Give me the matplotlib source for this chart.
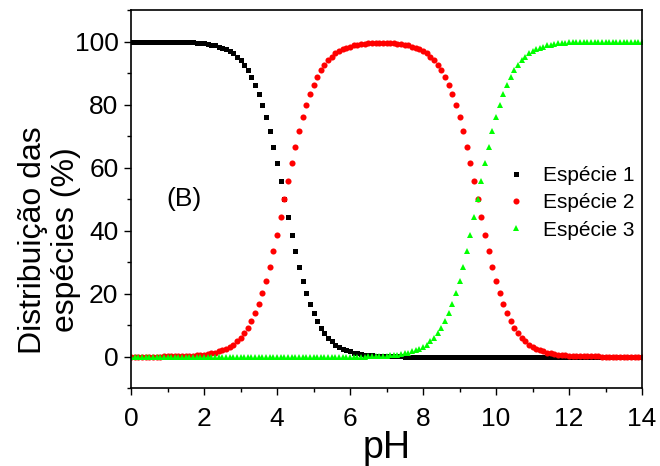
import matplotlib
matplotlib.use('Agg')
import matplotlib.pyplot as plt
import numpy as np
from matplotlib.ticker import MultipleLocator

plt.rcParams['font.family'] = ['Liberation Sans', 'DejaVu Sans']

# pH from 0 to 14 in steps of 0.1 (141 points)
ph = np.linspace(0, 14, 141)

especie1 = [
    100.0, 100.0, 100.0, 100.0, 100.0, 100.0, 100.0, 100.0, 100.0, 99.9,
    99.9, 99.9, 99.9, 99.9, 99.8, 99.8, 99.7, 99.7, 99.6, 99.5,
    99.4, 99.2, 99.0, 98.8, 98.4, 98.0, 97.5, 96.9, 96.2, 95.2,
    94.1, 92.6, 90.9, 88.8, 86.3, 83.4, 79.9, 76.0, 71.5, 66.6,
    61.3, 55.7, 50.0, 44.3, 38.7, 33.4, 28.5, 24.0, 20.1, 16.6,
    13.7, 11.2, 9.1, 7.4, 5.9, 4.8, 3.8, 3.1, 2.5, 2.0,
    1.6, 1.2, 1.0, 0.8, 0.6, 0.5, 0.4, 0.3, 0.3, 0.2,
    0.2, 0.1, 0.1, 0.1, 0.1, 0.0, 0.0, 0.0, 0.0, 0.0,
    0.0, 0.0, 0.0, 0.0, 0.0, 0.0, 0.0, 0.0, 0.0, 0.0,
    0.0, 0.0, 0.0, 0.0, 0.0, 0.0, 0.0, 0.0, 0.0, 0.0,
    0.0, 0.0, 0.0, 0.0, 0.0, 0.0, 0.0, 0.0, 0.0, 0.0,
    0.0, 0.0, 0.0, 0.0, 0.0, 0.0, 0.0, 0.0, 0.0, 0.0,
    0.0, 0.0, 0.0, 0.0, 0.0, 0.0, 0.0, 0.0, 0.0, 0.0,
    0.0, 0.0, 0.0, 0.0, 0.0, 0.0, 0.0, 0.0, 0.0, 0.0,
    0.0,
]

especie2 = [
    0.0, 0.0, 0.0, 0.0, 0.0, 0.0, 0.0, 0.0, 0.0, 0.1,
    0.1, 0.1, 0.1, 0.1, 0.2, 0.2, 0.3, 0.3, 0.4, 0.5,
    0.6, 0.8, 1.0, 1.2, 1.6, 2.0, 2.5, 3.1, 3.8, 4.8,
    5.9, 7.4, 9.1, 11.2, 13.7, 16.6, 20.1, 24.0, 28.5, 33.4,
    38.7, 44.3, 50.0, 55.7, 61.3, 66.6, 71.5, 76.0, 79.9, 83.4,
    86.3, 88.8, 90.9, 92.6, 94.1, 95.2, 96.2, 96.9, 97.5, 98.0,
    98.4, 98.8, 99.0, 99.2, 99.3, 99.4, 99.5, 99.5, 99.5, 99.5,
    99.5, 99.5, 99.4, 99.3, 99.1, 98.9, 98.8, 98.4, 98.0, 97.5,
    96.9, 96.2, 95.2, 94.1, 92.6, 90.9, 88.8, 86.3, 83.4, 79.9,
    76.0, 71.5, 66.6, 61.3, 55.7, 50.0, 44.3, 38.7, 33.4, 28.5,
    24.0, 20.1, 16.6, 13.7, 11.2, 9.1, 7.4, 5.9, 4.8, 3.8,
    3.1, 2.5, 2.0, 1.6, 1.2, 1.0, 0.8, 0.6, 0.5, 0.4,
    0.3, 0.3, 0.2, 0.2, 0.1, 0.1, 0.1, 0.1, 0.1, 0.0,
    0.0, 0.0, 0.0, 0.0, 0.0, 0.0, 0.0, 0.0, 0.0, 0.0,
    0.0,
]

especie3 = [
    0.0, 0.0, 0.0, 0.0, 0.0, 0.0, 0.0, 0.0, 0.0, 0.0,
    0.0, 0.0, 0.0, 0.0, 0.0, 0.0, 0.0, 0.0, 0.0, 0.0,
    0.0, 0.0, 0.0, 0.0, 0.0, 0.0, 0.0, 0.0, 0.0, 0.0,
    0.0, 0.0, 0.0, 0.0, 0.0, 0.0, 0.0, 0.0, 0.0, 0.0,
    0.0, 0.0, 0.0, 0.0, 0.0, 0.0, 0.0, 0.0, 0.0, 0.0,
    0.0, 0.0, 0.0, 0.0, 0.0, 0.0, 0.0, 0.0, 0.0, 0.0,
    0.0, 0.0, 0.0, 0.0, 0.0, 0.1, 0.1, 0.2, 0.2, 0.3,
    0.3, 0.4, 0.5, 0.6, 0.8, 1.0, 1.2, 1.6, 2.0, 2.5,
    3.1, 3.8, 4.8, 5.9, 7.4, 9.1, 11.2, 13.7, 16.6, 20.1,
    24.0, 28.5, 33.4, 38.7, 44.3, 50.0, 55.7, 61.3, 66.6, 71.5,
    76.0, 79.9, 83.4, 86.3, 88.8, 90.9, 92.6, 94.1, 95.2, 96.2,
    96.9, 97.5, 98.0, 98.4, 98.8, 99.0, 99.2, 99.4, 99.5, 99.6,
    99.7, 99.7, 99.8, 99.8, 99.9, 99.9, 99.9, 99.9, 99.9, 100.0,
    100.0, 100.0, 100.0, 100.0, 100.0, 100.0, 100.0, 100.0, 100.0, 100.0,
    100.0,
]

labels = ['Espécie 1', 'Espécie 2', 'Espécie 3']

fig = plt.figure(figsize=(6.6, 4.66), dpi=100)
ax = fig.add_axes([131/660, 1 - 388/466, 511/660, 378/466])

ax.plot(ph, especie1, 's', color='black', ms=3.6, mew=0, label=labels[0])
ax.plot(ph, especie2, 'o', color='red', ms=4.4, mew=0, label=labels[1])
ax.plot(ph, especie3, '^', color='#00ff00', ms=4.8, mew=0, label=labels[2])

ax.set_xlim(0, 14)
ax.set_ylim(-10, 110)
ax.xaxis.set_major_locator(MultipleLocator(2))
ax.xaxis.set_minor_locator(MultipleLocator(1))
ax.yaxis.set_major_locator(MultipleLocator(20))
ax.yaxis.set_minor_locator(MultipleLocator(10))
ax.tick_params(which='major', direction='out', length=5, width=1, labelsize=19, pad=4)
ax.tick_params(which='minor', direction='out', length=3, width=1)
ax.tick_params(axis='x', which='major', pad=9)
ax.set_yticks([0, 20, 40, 60, 80, 100])
for s in ax.spines.values():
    s.set_linewidth(1.2)

ax.set_xlabel('pH', fontsize=27, labelpad=-1)
ax.set_ylabel('Distribuição das\nespécies (%)', fontsize=23, linespacing=1.12)
ax.yaxis.set_label_coords(-0.098, 0.392)

ax.text(0.07, 0.5, '(B)', transform=ax.transAxes, fontsize=19, va='center')

ax.legend(loc='center left', bbox_to_anchor=(0.733, 0.49), frameon=False,
          fontsize=15, numpoints=1, handlelength=1.0, handletextpad=0.8,
          borderpad=0, borderaxespad=0, labelspacing=0.4)

fig.savefig('out.png', dpi=100)
